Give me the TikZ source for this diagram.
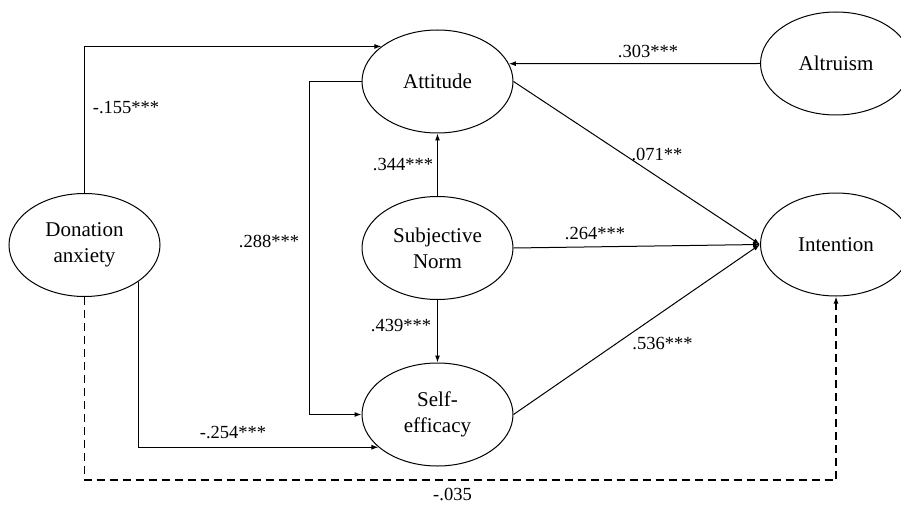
\documentclass[tikz,border=0pt]{standalone}
\usepackage{fontspec}
\setmainfont{Liberation Serif}
\usetikzlibrary{shapes.geometric,arrows.meta}
\begin{document}
\begin{tikzpicture}[x=1pt,y=-1pt,
  latent/.style={ellipse,draw,line width=1pt,minimum width=151pt,minimum height=103pt,inner sep=0pt,align=center,font=\fontsize{21}{26}\selectfont},
  arr/.style={line width=1pt,-{Latex[length=7pt,width=5pt]}},
  dasharr/.style={arr,line width=1.3pt,dash pattern=on 8pt off 5pt},
  coef/.style={inner sep=0pt,font=\fontsize{18.5}{20}\selectfont}]
\useasboundingbox (0,0) rectangle (901,505);
\clip (0,0) rectangle (901,505);
\fill[white] (0,0) rectangle (901,505);
\node[latent] (att) at (437.5,81.5) {Attitude};
\node[latent] (alt) at (836,63.5) {Altruism};
\node[latent] (sn) at (437.5,248) {Subjective\\Norm};
\node[latent] (se) at (437.5,414.5) {Self-\\efficacy};
\node[latent] (da) at (84.5,245) {Donation\\anxiety};
\node[latent] (int) at (836,244.5) {Intention};
% paths
\draw[arr] (da.north) |- (att.148);
\draw[arr] (att.west) -- ++(-52,0) |- (se.west);
\draw[arr] (sn.north) -- (att.south);
\draw[arr] (sn.south) -- (se.north);
\draw[arr] (da.-34) |- (se.209.5);
\draw[dasharr] (da.south) -- ++(0,183) -| (int.south);
\draw[arr] (alt.west) -- (att.14.7);
\draw[arr] (att.east) -- (int.west);
\draw[arr] (sn.east) -- (int.west);
\draw[arr] (se.east) -- (int.west);
% coefficients
\node[coef] (c1) at (126,108) {-.155***};
\node[coef] (c2) at (269,241) {.288***};
\node[coef] (c3) at (403,165) {.344***};
\node[coef] (c4) at (648,51) {.303***};
\node[coef] (c5) at (657,154) {.071**};
\node[coef] (c6) at (595,234) {.264***};
\node[coef] (c7) at (401,326) {.439***};
\node[coef] (c8) at (233,433) {-.254***};
\node[coef] (c9) at (662.5,344) {.536***};
\node[coef] (c10) at (452.5,494) {-.035};
\end{tikzpicture}
\end{document}
